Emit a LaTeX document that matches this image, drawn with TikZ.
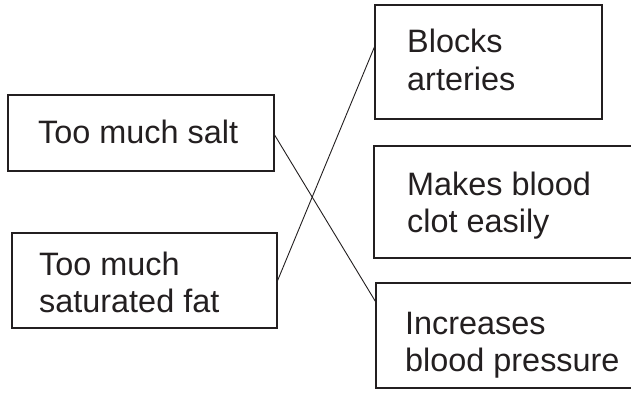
\documentclass[tikz,border=0pt]{standalone}
\usepackage{fontspec}
\setmainfont{Liberation Sans}
\definecolor{ink}{HTML}{231F20}
\begin{document}
\begin{tikzpicture}[x=1pt,y=-1pt,
  box/.style={draw=ink, line width=1.2pt, rectangle, inner sep=0pt},
  lbl/.style={anchor=base west, inner sep=0pt, text=ink, font=\fontsize{32.4}{37.5}\selectfont, align=left},
  link/.style={draw=ink, line width=0.9pt}]
\useasboundingbox (0,0) rectangle (631,401);
\clip (0,0) rectangle (631,401);
\fill[white] (0,0) rectangle (631,401);
% left boxes
\node[box, minimum width=266pt, minimum height=76pt] (salt) at (141,133) {};
\node[box, minimum width=265pt, minimum height=95pt] (fat) at (144.5,280.5) {};
% right boxes
\node[box, minimum width=227pt, minimum height=114pt] (blocks) at (488.5,62) {};
\node[box, minimum width=286pt, minimum height=112pt] (makes) at (517,202) {};
\node[box, minimum width=284pt, minimum height=105pt] (inc) at (518,335.5) {};
% texts
\node[lbl] (tsalt) at (38,143) {Too much salt};
\node[lbl] (tfat1) at (39,275) {Too much};
\node[lbl] (tfat2) at (39,312) {saturated fat};
\node[lbl] (tblocks1) at (407,53) {Blocks};
\node[lbl] (tblocks2) at (407,91) {arteries};
\node[lbl] (tmakes1) at (407,195) {Makes blood};
\node[lbl] (tmakes2) at (407,232) {clot easily};
\node[lbl] (tinc1) at (405,334) {Increases};
\node[lbl] (tinc2) at (405,371) {blood pressure};
% connectors
\draw[link] ([yshift=-2pt]salt.east) -- ([yshift=-19pt]inc.north west);
\draw[link] (fat.east) -- ([yshift=15pt]blocks.west);
\end{tikzpicture}
\end{document}
